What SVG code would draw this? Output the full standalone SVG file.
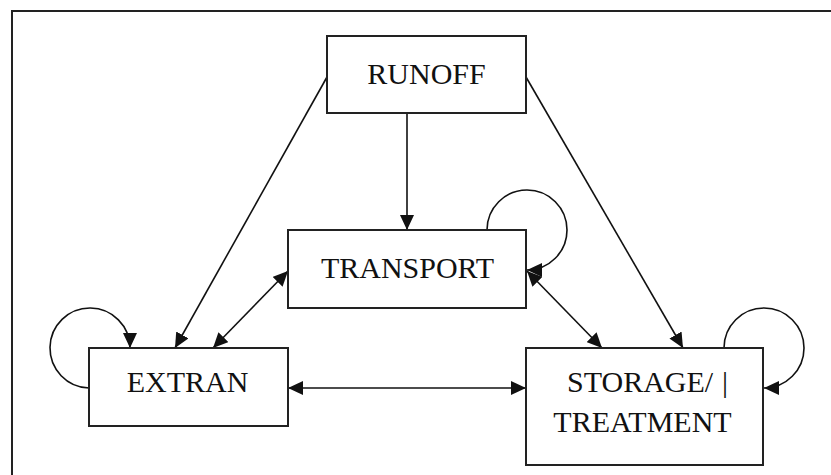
<svg xmlns="http://www.w3.org/2000/svg" width="831" height="475" viewBox="0 0 831 475">
<style>
.box{fill:#fff;stroke:#222;stroke-width:2}
.lbl{font-family:"Liberation Serif","Times New Roman",serif;font-size:30px;fill:#111}
.c{fill:none;stroke:#111;stroke-width:1.6}
</style>
<defs>
<marker id="ah" markerUnits="userSpaceOnUse" markerWidth="16" markerHeight="14" viewBox="0 0 16 14" refX="15" refY="7" orient="auto-start-reverse">
<path d="M0,0 L15,7 L0,14 z" fill="#111"/>
</marker>
</defs>
<rect width="831" height="475" fill="#fff"/>
<path d="M12,475 V11 H831" fill="none" stroke="#222" stroke-width="2"/>
<g id="connectors">
<path class="c" d="M407,113 V230" marker-end="url(#ah)"/>
<path class="c" d="M327,77 L175,348" marker-end="url(#ah)"/>
<path class="c" d="M526,77 L683,348" marker-end="url(#ah)"/>
<path class="c" d="M288,271 L213,348" marker-start="url(#ah)" marker-end="url(#ah)"/>
<path class="c" d="M527,271 L602,348" marker-start="url(#ah)" marker-end="url(#ah)"/>
<path class="c" d="M288,388 H526" marker-start="url(#ah)" marker-end="url(#ah)"/>
<path class="c" d="M487,230 A40,40 0 1 1 527,270" marker-end="url(#ah)"/>
<path class="c" d="M724,348 A40,40 0 1 1 764,388" marker-end="url(#ah)"/>
<path class="c" d="M89,388 A40,40 0 1 1 130,348" marker-end="url(#ah)"/>
</g>
<g id="runoff">
<rect class="box" x="327" y="36" width="199" height="77"/>
<text class="lbl" x="426.5" y="84" text-anchor="middle">RUNOFF</text>
</g>
<g id="transport">
<rect class="box" x="288" y="230" width="238" height="78"/>
<text class="lbl" x="407.5" y="278" text-anchor="middle">TRANSPORT</text>
</g>
<g id="extran">
<rect class="box" x="89" y="348" width="199" height="78"/>
<text class="lbl" x="187.5" y="392" text-anchor="middle">EXTRAN</text>
</g>
<g id="storage">
<rect class="box" x="526" y="348" width="237" height="117"/>
<text class="lbl" x="567" y="392">STORAGE/<tspan x="722">|</tspan></text>
<text class="lbl" x="642.5" y="432" text-anchor="middle">TREATMENT</text>
</g>
</svg>
